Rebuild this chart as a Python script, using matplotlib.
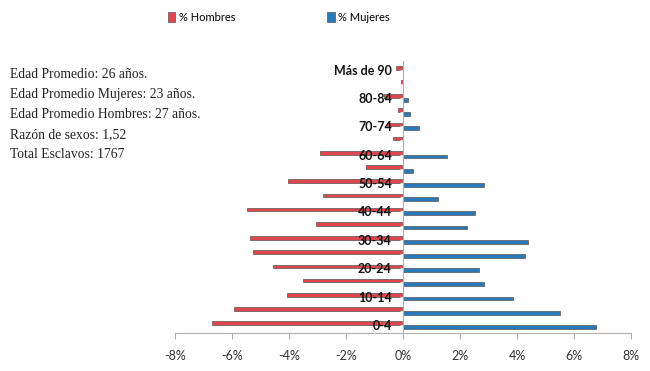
import matplotlib.pyplot as plt
import numpy as np

grupos = ["0-4", "5-9", "10-14", "15-19", "20-24", "25-29", "30-34", "35-39",
          "40-44", "45-49", "50-54", "55-59", "60-64", "65-69", "70-74",
          "75-79", "80-84", "85-89", "Más de 90"]
hombres = [-6.69, -5.92, -4.07, -3.52, -4.55, -5.27, -5.37, -3.05, -5.48, -2.81,
           -4.02, -1.30, -2.91, -0.36, -0.55, -0.16, -0.65, -0.06, -0.25]
mujeres = [6.78, 5.52, 3.85, 2.85, 2.68, 4.28, 4.37, 2.26, 2.53, 1.22,
           2.85, 0.34, 1.55, 0.0, 0.56, 0.23, 0.19, 0.0, 0.0]
notas = ["Edad Promedio: 26 años.",
         "Edad Promedio Mujeres: 23 años.",
         "Edad Promedio Hombres: 27 años.",
         "Razón de sexos: 1,52",
         "Total Esclavos: 1767"]
xticks = [-8, -6, -4, -2, 0, 2, 4, 6, 8]

narrow = ['Lato', 'DejaVu Sans']
rojo = '#e0474c'
azul = '#2a79b9'
gris = '#b0b0b0'

fig = plt.figure(figsize=(6.5, 3.71), dpi=100)
ax = fig.add_axes([0.2692, 0.1024, 0.7016, 0.7332])

# spine position first: moving it resets the tick labels
for s in ['top', 'right']:
    ax.spines[s].set_visible(False)
ax.spines['left'].set_position(('data', 0))
ax.spines['left'].set_color(gris)
ax.spines['bottom'].set_color(gris)

y = np.arange(len(grupos))
h = 0.26
ax.barh(y + 0.13, hombres, height=h, color=rojo, edgecolor='#555555',
        linewidth=0.5, label='% Hombres')
ax.barh(y - 0.13, mujeres, height=h, color=azul, edgecolor='#555555',
        linewidth=0.5, label='% Mujeres')

ax.set_xlim(-8, 8)
ax.set_ylim(-0.56, 18.6)
ax.set_xticks(xticks)
ax.set_xticklabels([f"{t}%" for t in xticks], family=narrow, fontsize=9,
                   color='#333333')
ax.set_yticks(y)
ax.set_yticklabels([g if i % 2 == 0 else "" for i, g in enumerate(grupos)],
                   family=narrow, fontsize=9, fontweight='bold', color='#111111')

ax.tick_params(axis='x', colors=gris, length=4, labelcolor='#333333', pad=8)
ax.tick_params(axis='y', colors='#dddddd', length=2, labelcolor='#111111', pad=6)

fig.legend(loc='center', bbox_to_anchor=(0.429, 0.954), ncol=2, frameon=False,
           prop={'family': narrow, 'size': 8}, handlelength=0.65,
           handleheight=0.95, handletextpad=0.3, columnspacing=8.3)

for i, t in enumerate(notas):
    fig.text(0.015, 1 - (75 + i * 19.8) / 371, t, family='Liberation Serif',
             fontsize=9.8, color='#222222', va='center', ha='left')

fig.savefig('out.png', dpi=100)
